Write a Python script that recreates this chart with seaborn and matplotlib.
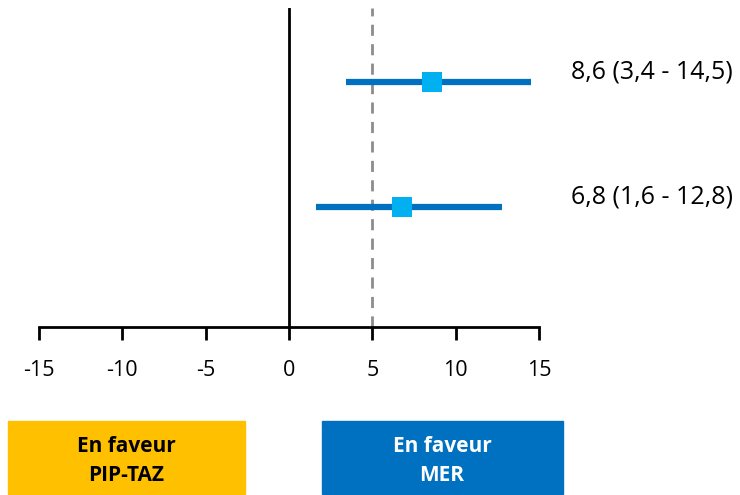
import matplotlib
matplotlib.use("Agg")
import matplotlib.pyplot as plt
import matplotlib.transforms as mtransforms
from matplotlib.patches import Rectangle
import seaborn as sns
import pandas as pd

# Estimates with confidence intervals (rows from top to bottom)
labels = ["8,6 (3,4 - 14,5)", "6,8 (1,6 - 12,8)"]
estimates = [8.6, 6.8]
ci_low = [3.4, 1.6]
ci_high = [14.5, 12.8]
rows = [2, 1]
x_ticks = [-15, -10, -5, 0, 5, 10, 15]
tick_labels = ["-15", "-10", "-5", "0", "5", "10", "15"]
left_box = "En faveur\nPIP-TAZ"
right_box = "En faveur\nMER"

df = pd.DataFrame({"row": rows, "est": estimates, "lo": ci_low, "hi": ci_high, "label": labels})

sns.set_theme(style="white")
plt.rcParams["font.family"] = ["Open Sans", "DejaVu Sans"]

fig = plt.figure(figsize=(7.4, 4.95), dpi=100)
ax = fig.add_axes([39 / 740, 1 - 327 / 495, 500 / 740, 319 / 495])

# reference lines
ax.axvline(0, color="black", lw=2, zorder=1)
ax.axvline(5, color="#8c8c8c", lw=2, ls=(0, (4, 3)), zorder=1)

# confidence intervals and point estimates
ax.hlines(df["row"], df["lo"], df["hi"], color="#0070C0", lw=4.5, zorder=2)
sns.scatterplot(data=df, x="est", y="row", marker="s", s=215, color="#00B0F0",
                linewidth=0, ax=ax, zorder=3, legend=False)

ax.set_xlim(-15, 15)
ax.set_ylim(0.035, 2.59)
ax.set_xticks(x_ticks)
ax.set_xticklabels(tick_labels, fontsize=15.5)
ax.set_yticks([])
ax.set_xlabel("")
ax.set_ylabel("")
for side in ["top", "right", "left"]:
    ax.spines[side].set_visible(False)
ax.spines["bottom"].set_color("black")
ax.spines["bottom"].set_linewidth(2)
ax.tick_params(axis="x", direction="out", length=9, width=2, color="black",
               bottom=True, pad=15, labelcolor="black")

# value labels to the right of the plot
trans = mtransforms.blended_transform_factory(fig.transFigure, ax.transData)
offset = mtransforms.ScaledTranslation(0, -2 / 72, fig.dpi_scale_trans)
for r, lab in zip(df["row"], df["label"]):
    ax.text(571 / 740, r, lab, transform=trans + offset, fontsize=18, ha="left",
            va="bottom", color="black", clip_on=False)

# direction boxes under the axis
fig.patches.append(Rectangle((8 / 740, 1 - 494 / 495), 237 / 740, 73 / 495,
                             transform=fig.transFigure, color="#FFC000", zorder=0))
fig.patches.append(Rectangle((322 / 740, 1 - 494 / 495), 241 / 740, 73 / 495,
                             transform=fig.transFigure, color="#0070C0", zorder=0))
fig.text(126 / 740, 1 - 461 / 495, left_box, ha="center", va="center", fontsize=15,
         fontweight="bold", color="black", linespacing=1.45)
fig.text(442 / 740, 1 - 461 / 495, right_box, ha="center", va="center", fontsize=15,
         fontweight="bold", color="white", linespacing=1.45)

fig.savefig("out.png", dpi=100)
